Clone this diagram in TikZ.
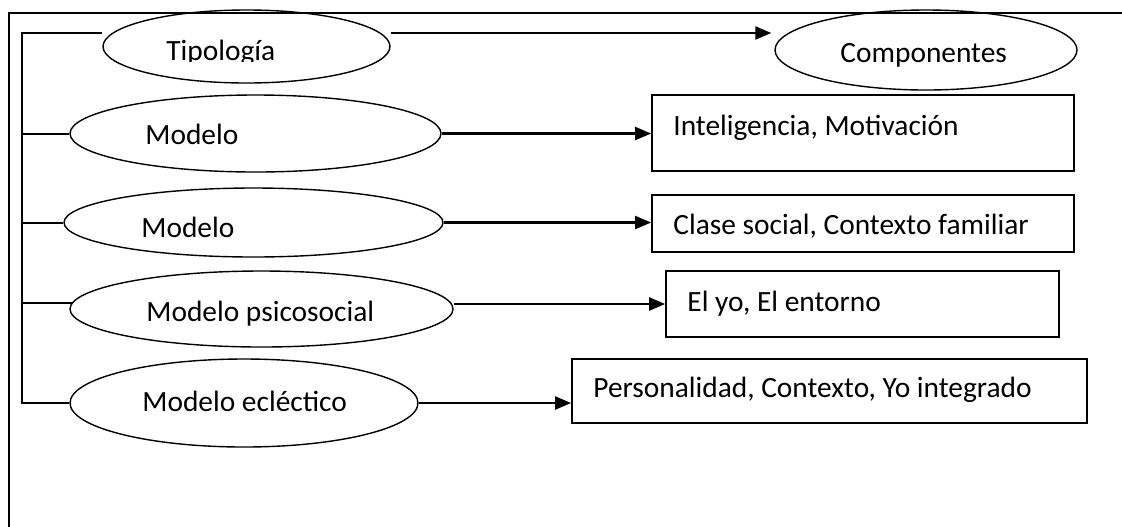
\documentclass[tikz,border=0pt]{standalone}
\usepackage{fontspec}
\setmainfont{Carlito}
\usetikzlibrary{positioning,shapes.geometric,arrows.meta}

\begin{document}
\begin{tikzpicture}[x=0.5pt,y=-0.5pt,font=\fontsize{14.7}{17}\selectfont,
  oval/.style={draw,ellipse,line width=0.7pt,inner sep=0pt},
  box/.style={draw,rectangle,line width=0.9pt,inner sep=0pt},
  lbl/.style={anchor=base west,inner sep=0pt},
  link/.style={line width=1pt},
  arr/.style={line width=1.1pt,-{Triangle[length=8pt,width=6.5pt]}}]
\useasboundingbox (0,0) rectangle (1122,526);
\clip (0,0) rectangle (1122,526);
\draw[line width=0.8pt] (9,13) rectangle (1140,545);

% ovals
\node[oval,minimum width=143.5pt,minimum height=36.5pt] (tip) at (246.5,46.5) {};
\node[oval,minimum width=151pt,minimum height=40pt] (comp) at (926,50) {};
\node[oval,minimum width=185.5pt,minimum height=38.5pt] (m1) at (255.5,133.5) {};
\node[oval,minimum width=189.5pt,minimum height=34.5pt] (m2) at (253.5,222.5) {};
\node[oval,minimum width=191.5pt,minimum height=38pt] (m3) at (261.5,309) {};
\node[oval,minimum width=174pt,minimum height=44pt] (m4) at (244,403) {};

% boxes
\node[box,minimum width=211pt,minimum height=38pt] (b1) at (863,133) {};
\node[box,minimum width=211pt,minimum height=28.5pt] (b2) at (863,223.5) {};
\node[box,minimum width=196.5pt,minimum height=33pt] (b3) at (862.5,304) {};
\node[box,minimum width=257.5pt,minimum height=32pt] (b4) at (829.5,391) {};

% texts
\begin{scope}
\clip (150,30) rectangle (300,61);
\node[lbl] (tipt) at (166,60) {Tipología};
\end{scope}
\node[lbl] (compt) at (840,62) {Componentes};
\node[lbl] (m1t) at (145,144) {Modelo};
\node[lbl] (m2t) at (141,237) {Modelo};
\node[lbl] (m3t) at (146,321) {Modelo psicosocial};
\node[lbl] (m4t) at (142,411) {Modelo ecléctico};
\node[lbl] (b1t) at (673,135) {Inteligencia, Motivación};
\node[lbl] (b2t) at (673,234) {Clase social, Contexto familiar};
\node[lbl] (b3t) at (687,311) {El yo, El entorno};
\node[lbl] (b4t) at (593,397) {Personalidad, Contexto, Yo integrado};

% rail on the left
\coordinate (top) at (22,33);
\coordinate (bot) at (22,403);
\draw[link] (tip.west |- top) -- (top) -- (bot) -- (m4.west);
\draw[link] (m1.west -| top) -- (m1.west);
\draw[link] (m2.west -| top) -- (m2.west);
\draw[link] (m3.west |- 0,303) coordinate (m3l) (m3l -| top) -- ([xshift=2pt]m3l);

% arrows
\draw[arr] (tip.east |- top) -- ([xshift=-1.5pt]comp.west |- top);
\draw[arr] (m1.east) -- (b1.west |- m1.east);
\draw[arr] (m2.east) -- (b2.west |- m2.east);
\draw[arr] (m3.east |- b3.west) -- (b3.west);
\draw[arr] (m4.east) -- (b4.west |- m4.east);
\end{tikzpicture}
\end{document}
